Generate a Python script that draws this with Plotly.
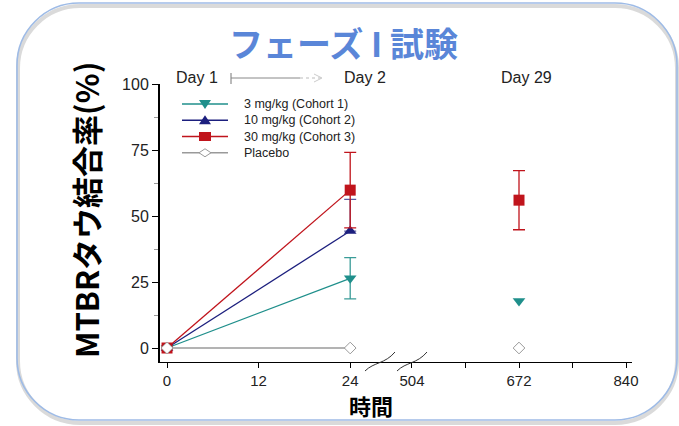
import plotly.graph_objects as go

# ---- data -------------------------------------------------------------
hours_early = [0, 24]          # Day 1 -> Day 2
hours_late = [672]             # Day 29

cohort1_early = [0, 26.4]      # 3 mg/kg
cohort1_early_err = [0, 7.8]
cohort1_late = [17.8]

cohort2_early = [0, 44.3]      # 10 mg/kg
cohort2_early_err_up = [0, 12.0]

cohort3_early = [0, 59.8]      # 30 mg/kg
cohort3_early_err = [0, 14.3]
cohort3_late = [56.0]
cohort3_late_err = [11.2]

placebo_early = [0, 0]
placebo_late = [0]

series_names = ["3 mg/kg (Cohort 1)", "10 mg/kg (Cohort 2)",
                "30 mg/kg (Cohort 3)", "Placebo"]
y_ticks = [0, 25, 50, 75, 100]
x_ticks_early = [0, 12, 24]
x_ticks_late = [504, 588, 672, 756, 840]
x_ticklabels_late = ["504", "", "672", "", "840"]
day_labels = ["Day 1", "Day 2", "Day 29"]

# ---- styling ----------------------------------------------------------
W, H = 679, 426
ML, MR, MT, MB = 160, 47, 84, 64
PW, PH = W - ML - MR, H - MT - MB

TEAL = "#1f8f8b"
NAVY = "#1c1f7e"
RED = "#c0141c"
GREY = "#9a9a9a"
TXT = "#222222"
FONT = "Liberation Sans, Arial, sans-serif"
CJK = "Noto Sans CJK JP"


def px(x):
    return (x - ML) / PW


def py(y):
    return (H - MB - y) / PH


def path(points, close=True):
    s = "M " + " L ".join(f"{px(a):.5f},{py(b):.5f}" for a, b in points)
    return s + (" Z" if close else "")


fig = go.Figure()

# early segment (x / y)
fig.add_trace(go.Scatter(
    x=hours_early, y=cohort1_early, name=series_names[0],
    mode="lines+markers", line=dict(color=TEAL, width=1.3),
    marker=dict(symbol="triangle-down", size=11, color=TEAL),
    error_y=dict(type="data", array=cohort1_early_err, color="#3a9c98",
                 thickness=1.3, width=6)))
fig.add_trace(go.Scatter(
    x=hours_early, y=cohort2_early, name=series_names[1],
    mode="lines+markers", line=dict(color=NAVY, width=1.3),
    marker=dict(symbol="triangle-up", size=11, color=NAVY),
    error_y=dict(type="data", symmetric=False, array=cohort2_early_err_up,
                 arrayminus=[0, 0], color="#5a5aa0", thickness=1.3, width=6)))
fig.add_trace(go.Scatter(
    x=hours_early, y=cohort3_early, name=series_names[2],
    mode="lines+markers", line=dict(color=RED, width=1.3),
    marker=dict(symbol="square", size=11, color=RED),
    error_y=dict(type="data", array=cohort3_early_err, color=RED,
                 thickness=1.3, width=6)))
fig.add_trace(go.Scatter(
    x=hours_early, y=placebo_early, name=series_names[3],
    mode="lines+markers", line=dict(color=GREY, width=1.3),
    marker=dict(symbol="diamond", size=9, color="white",
                line=dict(color=GREY, width=1))))

# late segment (x2 / y)
fig.add_trace(go.Scatter(
    x=hours_late, y=cohort1_late, xaxis="x2", mode="markers",
    marker=dict(symbol="triangle-down", size=11, color=TEAL)))
fig.add_trace(go.Scatter(
    x=hours_late, y=cohort3_late, xaxis="x2", mode="markers",
    marker=dict(symbol="square", size=11, color=RED),
    error_y=dict(type="data", array=cohort3_late_err, color=RED,
                 thickness=1.3, width=6)))
fig.add_trace(go.Scatter(
    x=hours_late, y=placebo_late, xaxis="x2", mode="markers",
    marker=dict(symbol="diamond", size=9, color="white",
                line=dict(color=GREY, width=1))))

# ---- rounded frame ----------------------------------------------------
def rounded(x0, y0, x1, y1, r):
    k = 0.55 * r
    pts = [
        ("M", (x0 + r, y0)), ("L", (x1 - r, y0)),
        ("C", (x1 - r + k, y0), (x1, y0 + r - k), (x1, y0 + r)),
        ("L", (x1, y1 - r)),
        ("C", (x1, y1 - r + k), (x1 - r + k, y1), (x1 - r, y1)),
        ("L", (x0 + r, y1)),
        ("C", (x0 + r - k, y1), (x0, y1 - r + k), (x0, y1 - r)),
        ("L", (x0, y0 + r)),
        ("C", (x0, y0 + r - k), (x0 + r - k, y0), (x0 + r, y0)),
    ]
    out = []
    for cmd, *ps in pts:
        out.append(cmd + " " + " ".join(f"{px(a):.5f},{py(b):.5f}" for a, b in ps))
    return " ".join(out) + " Z"


shapes = [
    dict(type="path", path=rounded(17, 3, 677, 420, 62), xref="paper",
         yref="paper", fillcolor="white", line=dict(width=0), layer="below"),
    dict(type="path", path=rounded(18, 6, 677, 423, 62), xref="paper",
         yref="paper", line=dict(color="rgba(150,150,150,0.35)", width=4),
         layer="below"),
    dict(type="path", path=rounded(17, 3, 677, 420, 62), xref="paper",
         yref="paper", line=dict(color="#9ebbe6", width=1.6), layer="below"),
]

# axis break marks
for xs in (365, 397):
    shapes.append(dict(
        type="path", xref="paper", yref="paper",
        path=(f"M {px(xs):.5f},{py(371):.5f} "
              f"C {px(xs + 9):.5f},{py(362):.5f} {px(xs + 20):.5f},{py(364):.5f} "
              f"{px(xs + 30):.5f},{py(352):.5f}"),
        line=dict(color="#333333", width=1)))

# Day 1 -> Day 2 connector
shapes += [
    dict(type="line", xref="paper", yref="paper", x0=px(231), x1=px(231),
         y0=py(73), y1=py(84), line=dict(color="#777777", width=1)),
    dict(type="line", xref="paper", yref="paper", x0=px(231), x1=px(300),
         y0=py(78), y1=py(78), line=dict(color="#888888", width=1)),
    dict(type="line", xref="paper", yref="paper", x0=px(300), x1=px(322),
         y0=py(78), y1=py(78), line=dict(color="#bbbbbb", width=1, dash="dot")),
    dict(type="line", xref="paper", yref="paper", x0=px(314), x1=px(322),
         y0=py(74), y1=py(78), line=dict(color="#cccccc", width=1)),
    dict(type="line", xref="paper", yref="paper", x0=px(314), x1=px(322),
         y0=py(82), y1=py(78), line=dict(color="#cccccc", width=1)),
]

annotations = [
    dict(text="<b>フェーズ\u00a0I\u00a0試験</b>", x=px(343), y=py(42),
         xref="paper", yref="paper", showarrow=False, xanchor="center",
         yanchor="middle", font=dict(family=CJK, size=34, color="#5a86d8")),
    dict(text="<b>MTBRタウ結合率(%)</b>", x=px(85), y=py(210), xref="paper",
         yref="paper", showarrow=False, textangle=-90, xanchor="center",
         yanchor="middle", font=dict(family=CJK, size=31, color="black")),
    dict(text="<b>時間</b>", x=px(371), y=py(405), xref="paper", yref="paper",
         showarrow=False, xanchor="center", yanchor="middle",
         font=dict(family=CJK, size=22, color="black")),
]
for lab, cx in zip(day_labels, (197, 365, 526)):
    annotations.append(dict(text=lab, x=px(cx), y=py(78), xref="paper",
                            yref="paper", showarrow=False, xanchor="center",
                            yanchor="middle",
                            font=dict(family=FONT, size=16, color=TXT)))

# ---- legend (top-left, inside the axes) -------------------------------
LEG_FONT = 12.5
leg_x0, leg_x1, leg_cx, leg_tx = 182, 228, 205, 242
leg_mid = 128.4
leg_step = LEG_FONT * 1.3
leg_rows = [leg_mid + (i - 1.5) * leg_step for i in range(4)]
leg_colors = [TEAL, NAVY, RED, GREY]
for col, ry in zip(leg_colors, leg_rows):
    shapes.append(dict(type="line", xref="paper", yref="paper",
                       x0=px(leg_x0), x1=px(leg_x1), y0=py(ry), y1=py(ry),
                       line=dict(color=col, width=1.5)))
annotations.append(dict(text="<br>".join(series_names), x=px(leg_tx),
                        y=py(leg_mid), xref="paper", yref="paper",
                        showarrow=False, xanchor="left", yanchor="middle",
                        align="left",
                        font=dict(family=FONT, size=LEG_FONT, color=TXT)))
c = leg_cx
shapes += [
    dict(type="path", xref="paper", yref="paper", fillcolor=TEAL,
         line=dict(width=0),
         path=path([(c - 6, leg_rows[0] - 4), (c + 6, leg_rows[0] - 4),
                    (c, leg_rows[0] + 5)])),
    dict(type="path", xref="paper", yref="paper", fillcolor=NAVY,
         line=dict(width=0),
         path=path([(c - 6, leg_rows[1] + 4), (c + 6, leg_rows[1] + 4),
                    (c, leg_rows[1] - 5)])),
    dict(type="path", xref="paper", yref="paper", fillcolor=RED,
         line=dict(width=0),
         path=path([(c - 6, leg_rows[2] - 4.5), (c + 6, leg_rows[2] - 4.5),
                    (c + 6, leg_rows[2] + 4.5), (c - 6, leg_rows[2] + 4.5)])),
    dict(type="path", xref="paper", yref="paper", fillcolor="white",
         line=dict(color=GREY, width=1),
         path=path([(c - 6, leg_rows[3]), (c, leg_rows[3] - 4),
                    (c + 6, leg_rows[3]), (c, leg_rows[3] + 4)])),
]

split = px(396)
fig.update_layout(
    width=W, height=H,
    margin=dict(l=ML, r=MR, t=MT, b=MB),
    paper_bgcolor="white", plot_bgcolor="rgba(0,0,0,0)",
    showlegend=False,
    xaxis=dict(domain=[0, split], range=[-0.92, 30.0], tickvals=x_ticks_early,
               showline=True, linecolor="black", linewidth=1, ticks="outside",
               ticklen=5, tickcolor="black", showgrid=False, zeroline=False,
               tickfont=dict(family=FONT, size=15, color=TXT), anchor="y"),
    xaxis2=dict(domain=[split, 1], range=[478.9, 849.4], tickvals=x_ticks_late,
                ticktext=x_ticklabels_late, showline=True, linecolor="black",
                linewidth=1, ticks="outside", ticklen=5, tickcolor="black",
                showgrid=False, zeroline=False, anchor="y",
                tickfont=dict(family=FONT, size=15, color=TXT)),
    yaxis=dict(range=[-5.3, 100], tickvals=y_ticks, showline=True,
               linecolor="black", linewidth=2, ticks="outside", ticklen=6,
               tickcolor="black", showgrid=False, zeroline=False, anchor="x",
               minor=dict(dtick=12.5, ticks="outside", ticklen=4,
                          tickcolor="#999999"),
               tickfont=dict(family=FONT, size=16, color=TXT)),
    shapes=shapes, annotations=annotations,
)

fig.write_html("out.html")
